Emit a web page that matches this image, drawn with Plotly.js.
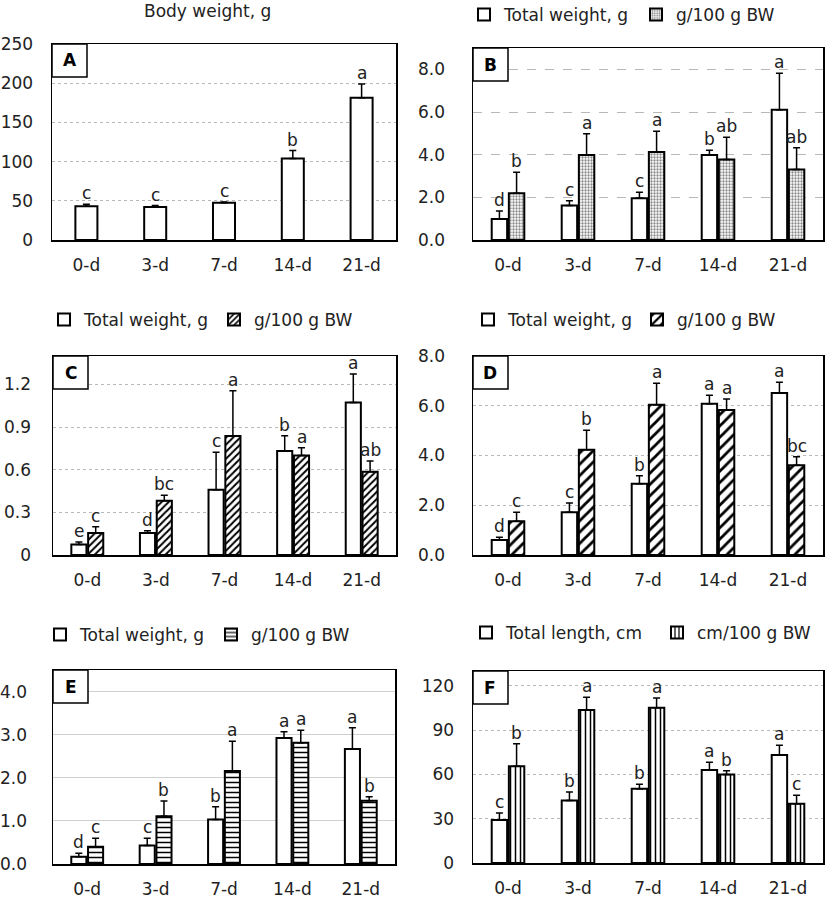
<!DOCTYPE html>
<html>
<head>
<meta charset="utf-8">
<script src="https://cdn.plot.ly/plotly-3.0.1.min.js"></script>
<style>html,body{margin:0;padding:0;background:#fff}#chart{width:827px;height:900px}</style>
</head>
<body>
<div id="chart"></div>
<script>
// ---------------- DATA ----------------
const categories = ['0-d', '3-d', '7-d', '14-d', '21-d'];

// A: Body weight, g
const bwMean = [43, 42, 47.5, 104, 181.5];
const bwErr = [2.5, 2, 1, 10, 17.5];
const bwLetters = ['c', 'c', 'c', 'b', 'a'];

// B
const bTotal = [0.99, 1.62, 1.96, 3.99, 6.10];
const bTotalErr = [0.37, 0.22, 0.28, 0.22, 1.72];
const bTotalLet = ['d', 'c', 'c', 'b', 'a'];
const bRel = [2.19, 3.99, 4.13, 3.77, 3.30];
const bRelErr = [0.99, 0.99, 0.97, 1.05, 1.02];
const bRelLet = ['b', 'a', 'a', 'ab', 'ab'];

// C
const cTotal = [0.073, 0.155, 0.459, 0.731, 1.073];
const cTotalErr = [0.019, 0.016, 0.263, 0.108, 0.200];
const cTotalLet = ['e', 'd', 'c', 'b', 'a'];
const cRel = [0.155, 0.382, 0.837, 0.700, 0.586];
const cRelErr = [0.044, 0.038, 0.318, 0.055, 0.075];
const cRelLet = ['c', 'bc', 'a', 'a', 'ab'];

// D
const dTotal = [0.60, 1.72, 2.86, 6.08, 6.51];
const dTotalErr = [0.11, 0.37, 0.33, 0.34, 0.43];
const dTotalLet = ['d', 'c', 'b', 'a', 'a'];
const dRel = [1.36, 4.23, 6.04, 5.83, 3.61];
const dRelErr = [0.36, 0.79, 0.86, 0.44, 0.34];
const dRelLet = ['c', 'b', 'a', 'a', 'bc'];

// E
const eTotal = [0.17, 0.43, 1.03, 2.92, 2.67];
const eTotalErr = [0.08, 0.17, 0.30, 0.15, 0.49];
const eTotalLet = ['d', 'c', 'b', 'a', 'a'];
const eRel = [0.40, 1.11, 2.16, 2.81, 1.47];
const eRelErr = [0.20, 0.35, 0.69, 0.29, 0.09];
const eRelLet = ['c', 'b', 'a', 'a', 'b'];

// F
const fTotal = [29.1, 42.3, 50.2, 63.0, 73.2];
const fTotalErr = [4.8, 5.7, 3.2, 5.2, 6.6];
const fTotalLet = ['c', 'b', 'b', 'a', 'a'];
const fRel = [65.5, 103.6, 105.2, 60.0, 40.2];
const fRelErr = [15.2, 8.7, 6.6, 2.5, 5.7];
const fRelLet = ['b', 'a', 'a', 'b', 'c'];

const legendTotalW = 'Total weight, g';
const legendRelW = 'g/100 g BW';
const legendTotalL = 'Total length, cm';
const legendRelL = 'cm/100 g BW';
const titleA = 'Body weight, g';

// ---------------- LAYOUT HELPERS ----------------
const W = 827, H = 900;
const FONT = 'DejaVu Sans, sans-serif';
const px = v => v / W;
const py = v => 1 - v / H;
const BARGAP = 0.51;
const OFF = (1 - BARGAP) / 4;

const panels = [
  {name: 'A', ax: '',  x: [52, 396],  y: [44, 240],  range: [0, 250], dtick: 50, fmt: '', grid: 'dot',   ys: 14},
  {name: 'B', ax: '2', x: [473, 823], y: [48, 240],  range: [0, 9],   dtick: 2,  fmt: '.1f', grid: 'dash', ys: 23},
  {name: 'C', ax: '3', x: [53, 396],  y: [356, 555], range: [0, 1.4], tickvals: [0, 0.3, 0.6, 0.9, 1.2], ticktext: ['0', '0.3', '0.6', '0.9', '1.2'], grid: 'dot', ys: 17},
  {name: 'D', ax: '4', x: [473, 823], y: [356, 555], range: [0, 8],   dtick: 2,  fmt: '.1f', grid: 'dot', ys: 23},
  {name: 'E', ax: '5', x: [53, 395],  y: [670, 864], range: [0, 4.5], dtick: 1,  fmt: '.1f', grid: 'solid', ys: 21},
  {name: 'F', ax: '6', x: [473, 823], y: [671, 863], range: [0, 130], dtick: 30, fmt: '', grid: 'dot', ys: 14}
];

const layout = {
  width: W, height: H,
  margin: {l: 0, r: 0, t: 0, b: 0, autoexpand: false},
  paper_bgcolor: '#fff', plot_bgcolor: '#fff',
  font: {family: FONT, size: 17, color: '#222'},
  barmode: 'group', bargap: BARGAP, bargroupgap: 0.1,
  showlegend: true,
  shapes: [], annotations: []
};

panels.forEach(p => {
  const xa = 'xaxis' + p.ax, ya = 'yaxis' + p.ax;
  layout[xa] = {
    domain: [px(p.x[0]), px(p.x[1])], anchor: 'y' + p.ax, type: 'category',
    categoryorder: 'array', categoryarray: categories,
    showline: true, mirror: true, linecolor: '#000', linewidth: 1.5,
    ticks: '', showgrid: false, zeroline: false, fixedrange: true,
    tickfont: {family: FONT, size: 17, color: '#222'}, ticklabelstandoff: 9
  };
  const yax = {
    domain: [py(p.y[1]), py(p.y[0])], anchor: 'x' + p.ax, range: p.range,
    showline: true, mirror: true, linecolor: '#000', linewidth: 1.5,
    ticks: '', zeroline: false, fixedrange: true,
    showgrid: true, gridcolor: p.grid === 'solid' ? '#d0d0d0' : '#b8b8b8', gridwidth: 1, griddash: p.grid,
    tickfont: {family: FONT, size: 17, color: '#222'}, ticklabelstandoff: p.ys
  };
  if (p.tickvals) { yax.tickmode = 'array'; yax.tickvals = p.tickvals; yax.ticktext = p.ticktext; }
  else { yax.dtick = p.dtick; yax.tick0 = 0; if (p.fmt) yax.tickformat = p.fmt; }
  layout[ya] = yax;
  // panel letter box
  const pw = p.x[1] - p.x[0], ph = p.y[1] - p.y[0];
  layout.shapes.push({type: 'rect', xref: 'x' + p.ax + ' domain', yref: 'y' + p.ax + ' domain',
    x0: 0, x1: 35 / pw, y0: 1 - 33 / ph, y1: 1, line: {color: '#000', width: 1.5}, fillcolor: '#fff', layer: 'above'});
  layout.annotations.push({xref: 'x' + p.ax + ' domain', yref: 'y' + p.ax + ' domain',
    x: 17.5 / pw, y: 1 - 16.5 / ph, text: '<b>' + p.name + '</b>', showarrow: false,
    font: {family: FONT, size: 17, color: '#000'}, xanchor: 'center', yanchor: 'middle'});
});

layout.annotations.push({xref: 'paper', yref: 'paper', x: px(207), y: py(11), text: titleA,
  showarrow: false, font: {family: FONT, size: 17, color: '#222'}, xanchor: 'center', yanchor: 'middle'});

// ---------------- TRACES ----------------
const traces = [];
const zeros = categories.map(() => 0);

function errBar(arr) {
  return {type: 'data', array: arr, arrayminus: zeros, symmetric: false, color: '#000', thickness: 1.5, width: 3.5};
}
function addLetters(ax, vals, errs, letters, shift) {
  vals.forEach((v, i) => {
    layout.annotations.push({xref: 'x' + ax, yref: 'y' + ax, x: i + shift, y: v + errs[i],
      text: letters[i], showarrow: false, xanchor: 'center', yanchor: 'bottom', yshift: -1,
      font: {family: FONT, size: 17, color: '#222'}});
  });
}

// A
traces.push({type: 'bar', x: categories, y: bwMean, xaxis: 'x', yaxis: 'y', width: 0.32,
  marker: {color: '#fff', line: {color: '#000', width: 2}}, error_y: errBar(bwErr), showlegend: false, hoverinfo: 'skip'});
addLetters('', bwMean, bwErr, bwLetters, 0);

const grouped = [
  {ax: '2', t: bTotal, te: bTotalErr, tl: bTotalLet, r: bRel, re: bRelErr, rl: bRelLet, n1: legendTotalW, n2: legendRelW,
   pat: {shape: '.', fgcolor: '#888', bgcolor: '#fff', size: 3, solidity: 0.45}, lx: [464, 636], ly: 15},
  {ax: '3', t: cTotal, te: cTotalErr, tl: cTotalLet, r: cRel, re: cRelErr, rl: cRelLet, n1: legendTotalW, n2: legendRelW,
   pat: {shape: '/', fgcolor: '#000', bgcolor: '#fff', size: 5, solidity: 0.4}, lx: [44, 214], ly: 320},
  {ax: '4', t: dTotal, te: dTotalErr, tl: dTotalLet, r: dRel, re: dRelErr, rl: dRelLet, n1: legendTotalW, n2: legendRelW,
   pat: {shape: '/', fgcolor: '#000', bgcolor: '#fff', size: 8, solidity: 0.35}, lx: [468, 637], ly: 320},
  {ax: '5', t: eTotal, te: eTotalErr, tl: eTotalLet, r: eRel, re: eRelErr, rl: eRelLet, n1: legendTotalW, n2: legendRelW,
   pat: {shape: '-', fgcolor: '#000', bgcolor: '#fff', size: 5, solidity: 0.3}, lx: [40, 211], ly: 635},
  {ax: '6', t: fTotal, te: fTotalErr, tl: fTotalLet, r: fRel, re: fRelErr, rl: fRelLet, n1: legendTotalL, n2: legendRelL,
   pat: {shape: '|', fgcolor: '#000', bgcolor: '#fff', size: 5, solidity: 0.3}, lx: [466, 657], ly: 633}
];

let legN = 0;
function legendName() { legN += 1; return legN === 1 ? 'legend' : 'legend' + legN; }
function addLegend(name, xPx, yPx) {
  layout[name] = {orientation: 'h', x: px(xPx), y: py(yPx), xanchor: 'left', yanchor: 'middle',
    xref: 'paper', yref: 'paper', bgcolor: 'rgba(0,0,0,0)', borderwidth: 0,
    font: {family: FONT, size: 17, color: '#222'}, itemwidth: 30,
    itemclick: false, itemdoubleclick: false};
}

grouped.forEach(g => {
  const l1 = legendName(), l2 = legendName();
  addLegend(l1, g.lx[0], g.ly);
  addLegend(l2, g.lx[1], g.ly);
  traces.push({type: 'bar', name: g.n1, x: categories, y: g.t, xaxis: 'x' + g.ax, yaxis: 'y' + g.ax, legend: l1,
    marker: {color: '#fff', line: {color: '#000', width: 2}}, error_y: errBar(g.te), hoverinfo: 'skip'});
  traces.push({type: 'bar', name: g.n2, x: categories, y: g.r, xaxis: 'x' + g.ax, yaxis: 'y' + g.ax, legend: l2,
    marker: {color: '#fff', line: {color: '#000', width: 2}, pattern: g.pat}, error_y: errBar(g.re), hoverinfo: 'skip'});
  addLetters(g.ax, g.t, g.te, g.tl, -OFF);
  addLetters(g.ax, g.r, g.re, g.rl, OFF);
});

Plotly.newPlot('chart', traces, layout, {staticPlot: true, displayModeBar: false});
</script>
</body>
</html>
